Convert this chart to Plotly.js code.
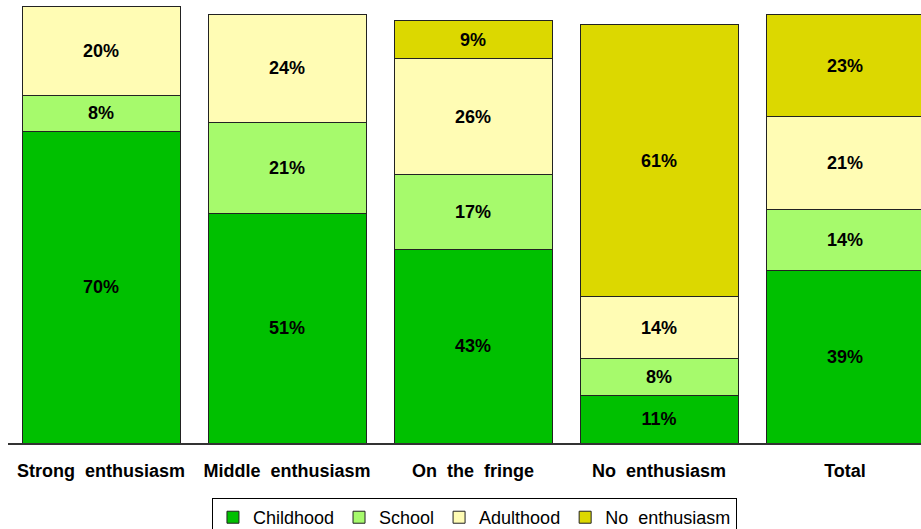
<!DOCTYPE html>
<html>
<head>
<meta charset="utf-8">
<script src="https://cdn.plot.ly/plotly-3.0.1.min.js"></script>
<style>html,body{margin:0;padding:0;background:#fff;}#chart{width:921px;height:529px;}</style>
</head>
<body>
<div id="chart"></div>
<script>
const categories = ["Strong\u00a0\u00a0enthusiasm", "Middle\u00a0\u00a0enthusiasm", "On\u00a0\u00a0the\u00a0\u00a0fringe", "No\u00a0\u00a0enthusiasm", "Total"];
const childhood = [70.0, 51.4, 43.4, 10.6, 38.6];
const school = [7.9, 20.6, 16.8, 8.3, 13.7];
const adulthood = [20.0, 24.2, 26.0, 13.9, 20.9];
const noEnthusiasm = [null, null, 8.6, 61.0, 22.9];
const seriesNames = ["Childhood", "School", "Adulthood", "No\u00a0\u00a0enthusiasm"];
const seriesColors = ["#00c000", "#a6fa6c", "#fffcb4", "#dcd800"];

const seriesValues = [childhood, school, adulthood, noEnthusiasm];
const font = "Liberation Sans, Arial, sans-serif";
const traces = seriesValues.map((vals, i) => ({
  type: "bar",
  x: categories,
  y: vals,
  name: seriesNames[i],
  marker: {color: seriesColors[i], line: {color: "#222", width: 1}},
  texttemplate: "%{y:.0f}%",
  textposition: "inside",
  insidetextanchor: "middle",
  textangle: 0,
  constraintext: "none",
  textfont: {family: font, size: 18, color: "#000", weight: "bold"},
  hoverinfo: "skip"
}));

const layout = {
  width: 921, height: 529,
  margin: {l: 8, r: 0, t: 0, b: 86, autoexpand: false},
  barmode: "stack",
  bargap: 0.1505,
  paper_bgcolor: "#fff",
  plot_bgcolor: "#fff",
  showlegend: true,
  xaxis: {
    range: [-0.5, 4.4086],
    showline: true, linecolor: "#333", linewidth: 2,
    ticks: "", showgrid: false, zeroline: false,
    tickfont: {family: font, size: 18, color: "#000", weight: "bold"},
    ticklabelstandoff: 10,
    automargin: false
  },
  yaxis: {
    range: [0, 99.4], visible: false, showgrid: false, zeroline: false, automargin: false
  },
  legend: {
    orientation: "h",
    x: 0.2234, xanchor: "left",
    y: -0.1242, yanchor: "top",
    bordercolor: "#000", borderwidth: 1,
    bgcolor: "#fff",
    font: {family: font, size: 18, color: "#000"},
    traceorder: "normal",
    itemwidth: 30
  },
  font: {family: font}
};

Plotly.newPlot("chart", traces, layout, {staticPlot: true});
</script>
</body>
</html>
